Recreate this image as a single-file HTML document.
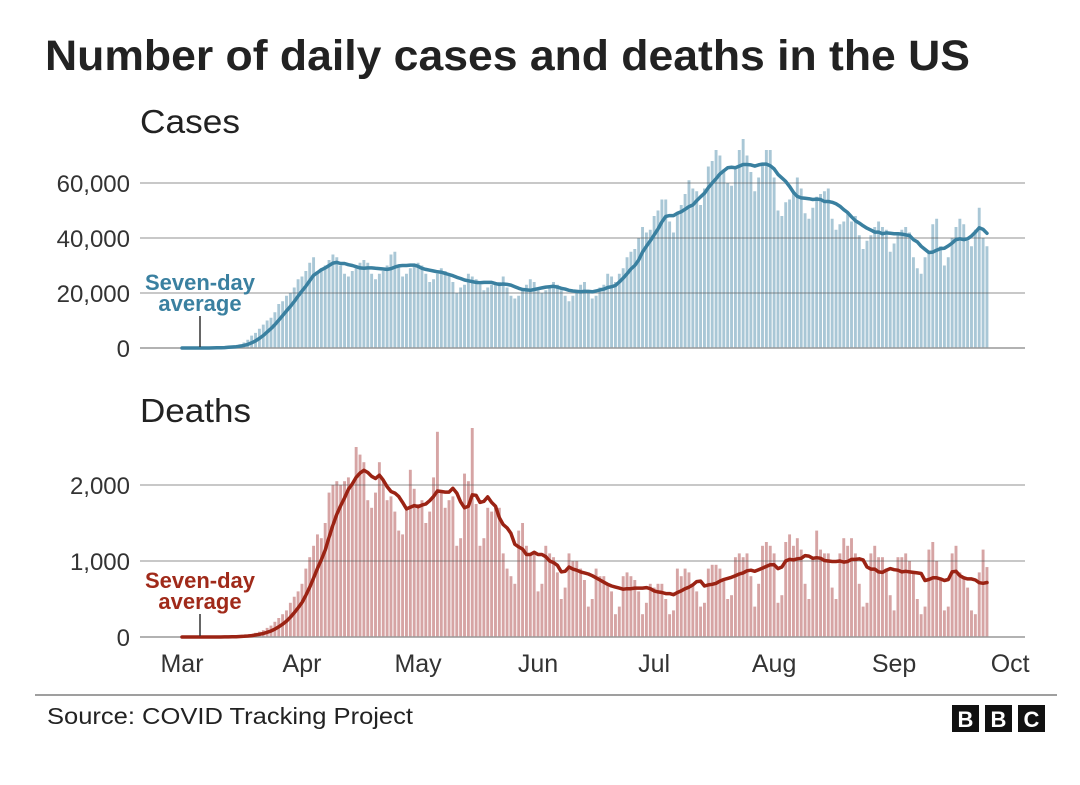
<!DOCTYPE html>
<html><head><meta charset="utf-8">
<style>
body{margin:0;background:#fff;}
svg text{font-family:"Liberation Sans",Arial,sans-serif;}
</style></head>
<body>
<svg id="c" width="1080" height="780" viewBox="0 0 1080 780">
<text x="45" y="70" font-size="43" font-weight="bold" fill="#222" textLength="925" lengthAdjust="spacingAndGlyphs">Number of daily cases and deaths in the US</text>
<text x="140" y="133" font-size="33" fill="#222" textLength="100" lengthAdjust="spacingAndGlyphs">Cases</text>
<text x="140" y="422" font-size="33" fill="#222" textLength="111" lengthAdjust="spacingAndGlyphs">Deaths</text>
<g id="cases"></g>
<g id="deaths"></g>
<g id="xaxis"></g>
<text x="200" y="290" font-size="22" font-weight="bold" fill="#3a80a0" text-anchor="middle">Seven-day</text>
<text x="200" y="311" font-size="22" font-weight="bold" fill="#3a80a0" text-anchor="middle">average</text>
<line x1="200" y1="316" x2="200" y2="347" stroke="#333" stroke-width="1.5"/>
<text x="200" y="588" font-size="22" font-weight="bold" fill="#a02a1a" text-anchor="middle">Seven-day</text>
<text x="200" y="609" font-size="22" font-weight="bold" fill="#a02a1a" text-anchor="middle">average</text>
<line x1="200" y1="614" x2="200" y2="636" stroke="#333" stroke-width="1.5"/>
<line x1="35" y1="695" x2="1057" y2="695" stroke="#666" stroke-width="1.2"/>
<text x="47" y="724" font-size="23" fill="#222" textLength="366" lengthAdjust="spacingAndGlyphs">Source: COVID Tracking Project</text>
<g>
<rect x="952" y="705" width="27" height="27" fill="#111"/><text x="965.5" y="727" font-size="22" font-weight="bold" fill="#fff" text-anchor="middle">B</text>
<rect x="985" y="705" width="27" height="27" fill="#111"/><text x="998.5" y="727" font-size="22" font-weight="bold" fill="#fff" text-anchor="middle">B</text>
<rect x="1018" y="705" width="27" height="27" fill="#111"/><text x="1031.5" y="727" font-size="22" font-weight="bold" fill="#fff" text-anchor="middle">C</text>
</g>
</svg>
<script>
const casesK = [
0,0,0,0,0,0,0,0.1,0.1,0.2,0.3,0.4,0.6,0.8,1.0,1.4,2,3,4.5,5.5,7,8.5,10,11,13,16,17,19,20,22,25,
26,28,31,33,27,29,30,32,34,33,30,27,26,28,29,31,32,31,27,25,27,28,30,34,35,30,26,27,29,30,
31,30,27,24,25,27,29,28,27,24,20,22,23,27,26,25,23,21,22,23,24,24,26,22,19,18,19,21,23,25,24,
21,20,21,22,24,23,21,19,17,19,21,23,24,21,18,19,22,23,27,26,24,27,29,33,35,36,40,44,42,43,
48,50,54,54,46,42,49,52,56,61,58,57,52,58,66,68,72,70,65,60,59,65,72,76,70,64,57,62,67,72,72,
62,50,48,53,54,57,62,58,49,47,51,55,56,57,58,47,43,45,46,49,46,48,41,36,39,41,44,46,44,43,35,
38,41,43,44,42,33,29,27,33,35,45,47,37,30,33,40,44,47,45,39,37,43,51,40,37];
const deaths = [
0,0,0,0,0,0,0,0,0,1,2,3,5,8,10,15,25,30,40,55,70,90,120,150,200,250,300,350,450,530,600,
700,900,1050,1200,1350,1300,1500,1900,2000,2050,2000,2050,2100,2000,2500,2400,2300,1800,1700,1900,2300,2050,1800,1850,1650,1400,1350,1700,2200,1950,
1750,1800,1500,1650,2100,2700,1900,1700,1800,1850,1200,1300,2150,2050,2750,1750,1200,1300,1700,1650,1700,1700,1100,900,800,700,1400,1500,1200,1100,1100,
600,700,1200,1100,1050,850,500,650,1100,1000,1000,900,750,400,500,900,800,800,700,600,300,400,800,850,800,750,600,300,450,700,
650,700,700,500,300,350,900,800,900,850,700,600,400,450,900,950,950,900,750,500,550,1050,1100,1050,1100,800,400,700,1200,1250,1200,
1100,450,550,1250,1350,1200,1300,1150,700,500,1050,1400,1150,1100,1100,650,500,1100,1300,1200,1300,1100,700,400,450,1100,1200,1050,1050,900,550,
350,1050,1050,1100,1000,850,500,300,400,1150,1250,1000,750,350,400,1100,1200,850,800,650,350,300,850,1150,920];
const monthLabels = ["Mar","Apr","May","Jun","Jul","Aug","Sep","Oct"];
const monthStartIdx = [0,31,61,92,122,153,184,214];
const caseTicks = [0,20000,40000,60000];
const deathTicks = [0,1000,2000];

const NS="http://www.w3.org/2000/svg";
const x = i => 182 + i*3.87;
const yC = v => 348 - v/20000*55;
const yD = v => 637 - v/1000*76;
function mk(tag, attrs, parent){const e=document.createElementNS(NS,tag);for(const k in attrs)e.setAttribute(k,attrs[k]);parent.appendChild(e);return e;}
function avg(arr){const out=[];for(let i=0;i<arr.length;i++){let s=0,n=0;for(let j=Math.max(0,i-6);j<=i;j++){s+=arr[j];n++;}out.push(s/n);}return out;}

function panel(g, vals, yf, ticks, barColor, lineColor, name){
  vals.forEach((v,i)=>{
    const r=mk('rect',{x:x(i)-1.45,y:yf(v),width:2.9,height:Math.max(0,yf(0)-yf(v)),fill:barColor},g);
    
    
  });
  ticks.forEach(t=>{
    const l=mk('line',{x1:140,x2:1025,y1:yf(t),y2:yf(t),stroke:t===0?'#999':'rgba(90,90,90,0.45)','stroke-width':1.5},g);
    
    
    const tx=mk('text',{x:130,y:yf(t)+9,'font-size':24,fill:'#333','text-anchor':'end'},g);
    tx.textContent=t.toLocaleString('en-US');
    
    
  });
  const a=avg(vals);
  const p=mk('polyline',{points:a.map((v,i)=>x(i).toFixed(1)+','+yf(v).toFixed(1)).join(' '),fill:'none',stroke:lineColor,'stroke-width':3.5,'stroke-linejoin':'round','stroke-linecap':'round'},g);
  
  
}
panel(document.getElementById('cases'), casesK.map(v=>v*1000), yC, caseTicks, '#a9c7d6', '#3a80a0', 'cases');
panel(document.getElementById('deaths'), deaths, yD, deathTicks, '#d6a4a4', '#9b2314', 'deaths');
const xa=document.getElementById('xaxis');
monthLabels.forEach((m,k)=>{
  const t=mk('text',{x:x(monthStartIdx[k]),y:672,'font-size':25,fill:'#333','text-anchor':'middle'},xa);
  t.textContent=m;
  
  
});
</script>
</body></html>
